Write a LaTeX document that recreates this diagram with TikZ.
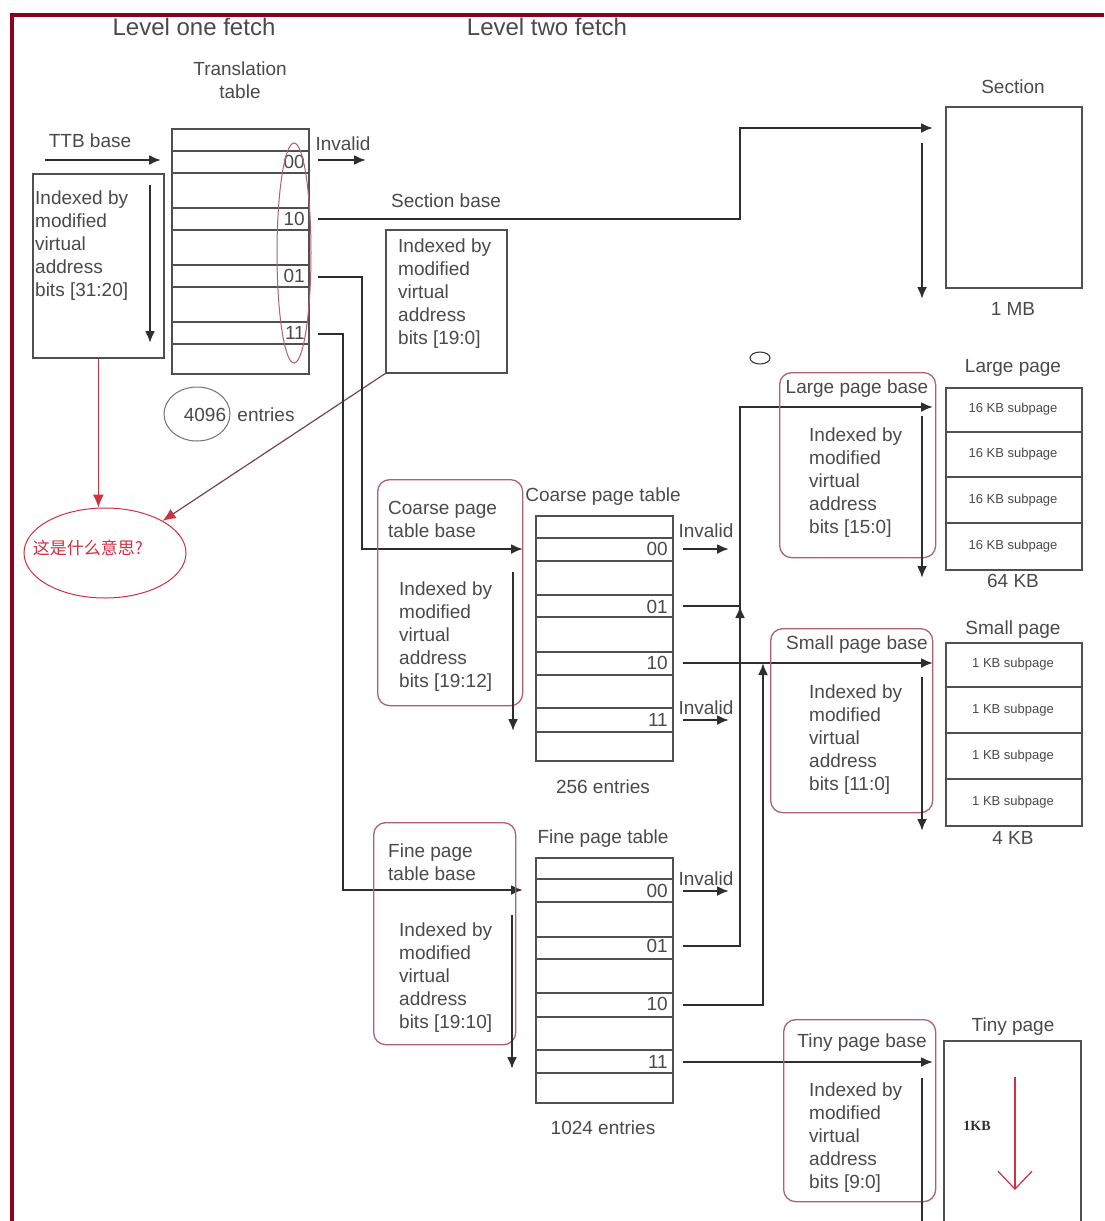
\documentclass[tikz,border=0pt]{standalone}
\usepackage{fontspec}
\setmainfont{Liberation Sans}
\newfontfamily\cjk{Noto Sans CJK SC}
\newfontfamily\serifb{Liberation Serif}
\usetikzlibrary{arrows.meta,shapes.geometric,calc}
\definecolor{txt}{HTML}{4A4A4A}
\definecolor{ln}{HTML}{2E2E2E}
\definecolor{bx}{HTML}{505050}
\definecolor{rb}{HTML}{B06070}
\definecolor{brd}{HTML}{8A0020}
\definecolor{qred}{HTML}{D03040}
\begin{document}
\begin{tikzpicture}[x=1pt,y=-1pt,
  lbl/.style={font=\fontsize{19}{23}\selectfont, text=txt, inner sep=0pt},
  ttl/.style={font=\fontsize{24}{28}\selectfont, text=txt, inner sep=0pt},
  sub/.style={font=\fontsize{13}{16}\selectfont, text=txt, inner sep=0pt},
  blk/.style={lbl, align=left, anchor=north west},
  ent/.style={lbl, anchor=east},
  conn/.style={draw=ln, line width=2.2pt},
  arr/.style={conn, -{Latex[length=12pt,width=10pt]}},
  tbl/.style={draw=bx, line width=1.7pt, inner sep=0pt, anchor=north west},
  row/.style={draw=bx, line width=1.7pt},
  rbox/.style={draw=rb, line width=1.3pt, rounded corners=12pt, inner sep=0pt, anchor=north west},
  redarr/.style={draw=qred, line width=1.2pt, -{Latex[length=13pt,width=11pt,color=qred]}}
]
\useasboundingbox (0,0) rectangle (1104,1221);
\fill[white] (0,0) rectangle (1104,1221);

% border
\draw[brd, line width=4pt] (12,1221) -- (12,15) -- (1104,15);

% titles
\node[ttl] (lv1) at (194,27) {Level one fetch};
\node[ttl] (lv2) at (547,27) {Level two fetch};

% ---------- Level one ----------
\node[lbl, align=center] (ttlbl) at (240,80) {Translation\\table};
\node[tbl, minimum width=137pt, minimum height=245pt] (TT) at (171,128) {};
\foreach \r in {151,173,208,230,265,287,322,344} \draw[row] (171,\r) -- (308,\r);
\node[ent] (t00) at (305,162) {00};
\node[ent] (t10) at (305,219) {10};
\node[ent] (t01) at (305,276) {01};
\node[ent] (t11) at (305,333) {11};
\node[draw=rb, ellipse, line width=1pt, minimum width=34pt, minimum height=220pt, inner sep=0pt] (E1) at (294,253) {};

\node[lbl] (ttb) at (90,141) {TTB base};
\coordinate (ttbS) at (45,160);
\coordinate (ttbE) at (161,160);
\draw[arr] (ttbS) -- (ttbE);

\node[tbl, minimum width=131pt, minimum height=184pt] (IB1) at (32,173) {};
\node[blk] (IB1t) at (35,191) {Indexed by\\modified\\virtual\\address\\bits [31:20]};
\coordinate (ib1a) at (150,185); \coordinate (ib1b) at (150,343);
\draw[arr] (ib1a) -- (ib1b);

\node[lbl] (inv1) at (343,144) {Invalid};
\coordinate (s00) at (318,160); \coordinate (s00e) at (366,160);
\draw[arr] (s00) -- (s00e);

\node[lbl] (secb) at (446,201) {Section base};
\coordinate (s10) at (318,219); \coordinate (secJ) at (740,128); \coordinate (secIn) at (933,128);
\draw[arr] (s10) -| (secJ) -- (secIn);

\node[tbl, minimum width=121pt, minimum height=143pt] (IB2) at (385,229) {};
\node[blk] (IB2t) at (398,239) {Indexed by\\modified\\virtual\\address\\bits [19:0]};

\node[draw=bx!80, ellipse, line width=1pt, minimum width=66pt, minimum height=54pt, inner sep=0pt] (E2) at (197,414) {};
\node[lbl] (n4096) at (205,415) {4096};
\node[lbl] (nent) at (266,415) {entries};

% question ellipse
\node[draw=qred, ellipse, line width=1pt, minimum width=162pt, minimum height=90pt, inner sep=0pt] (Q) at (105,553) {};
\node[font=\cjk\fontsize{17}{20}\selectfont, text=qred, inner sep=0pt] (Qt) at (88,548) {这是什么意思?};
\draw[redarr] (IB1.south) -- (IB1.south |- Q.north);
\draw[draw=rb!70!black, line width=1.2pt, -{Latex[length=13pt,width=11pt,color=qred]}] (IB2.south west) -- (Q.north east);

% entries 01 and 11 of level one
\coordinate (s01) at (318,277); \coordinate (cbJ) at (362,549); \coordinate (cbIn) at (523,549);
\draw[arr] (s01) -| (cbJ) -- (cbIn);
\coordinate (s11) at (318,334); \coordinate (fbJ) at (343,890); \coordinate (fbIn) at (523,890);
\draw[arr] (s11) -| (fbJ) -- (fbIn);

% ---------- Section ----------
\node[lbl] (secl) at (1013,87) {Section};
\node[tbl, minimum width=136pt, minimum height=181pt] (SEC) at (945,106) {};
\node[lbl] (mb1) at (1013,309) {1 MB};
\coordinate (sda) at (922,143); \coordinate (sdb) at (922,299);
\draw[arr] (sda) -- (sdb);

% ---------- Coarse ----------
\node[rbox, minimum width=145pt, minimum height=226pt] (CB) at (377,479) {};
\node[blk] (CBt) at (388,501) {Coarse page\\table base};
\node[blk] (CBi) at (399,582) {Indexed by\\modified\\virtual\\address\\bits [19:12]};
\coordinate (cba) at (513,572); \coordinate (cbb) at (513,731);
\draw[arr] (cba) -- (cbb);

\node[lbl] (cptl) at (603,497) {Coarse page table};
\node[tbl, minimum width=137pt, minimum height=245pt] (CT) at (535,515) {};
\foreach \r in {538,561,595,617,652,675,708,732} \draw[row] (535,\r) -- (672,\r);
\node[ent] (c00) at (668,549) {00};
\node[ent] (c01) at (668,607) {01};
\node[ent] (c10) at (668,663) {10};
\node[ent] (c11) at (668,720) {11};
\node[lbl] (cent) at (603,787) {256 entries};

\node[lbl] (inv2) at (706,531) {Invalid};
\node[lbl] (inv3) at (706,708) {Invalid};
\coordinate (cs00) at (683,549); \coordinate (cs00e) at (729,549);
\draw[arr] (cs00) -- (cs00e);
\coordinate (cs11) at (683,720); \coordinate (cs11e) at (729,720);
\draw[arr] (cs11) -- (cs11e);
\coordinate (cs01) at (683,606); \coordinate (lgM) at (740,606); \coordinate (lgMb) at (740,630);
\draw[conn] (cs01) -- (lgM);
\draw[arr] (lgMb) -- (lgM);
\coordinate (cs10) at (683,663); \coordinate (spIn) at (933,663);
\draw[arr] (cs10) -- (spIn);

% ---------- Fine ----------
\node[rbox, minimum width=142pt, minimum height=222pt] (FB) at (373,822) {};
\node[blk] (FBt) at (388,844) {Fine page\\table base};
\node[blk] (FBi) at (399,923) {Indexed by\\modified\\virtual\\address\\bits [19:10]};
\coordinate (fba) at (512,915); \coordinate (fbb) at (512,1069);
\draw[arr] (fba) -- (fbb);

\node[lbl] (fptl) at (603,839) {Fine page table};
\node[tbl, minimum width=137pt, minimum height=245pt] (FT) at (535,857) {};
\foreach \r in {879,902,937,959,993,1017,1050,1073} \draw[row] (535,\r) -- (672,\r);
\node[ent] (f00) at (668,891) {00};
\node[ent] (f01) at (668,946) {01};
\node[ent] (f10) at (668,1004) {10};
\node[ent] (f11) at (668,1062) {11};
\node[lbl] (fent) at (603,1128) {1024 entries};

\node[lbl] (inv4) at (706,879) {Invalid};
\coordinate (fs00) at (683,891); \coordinate (fs00e) at (729,891);
\draw[arr] (fs00) -- (fs00e);
\coordinate (fs01) at (683,946); \coordinate (lgJ) at (740,407); \coordinate (lgIn) at (933,407);
\draw[arr] (fs01) -| (lgJ) -- (lgIn);
\coordinate (fs10) at (683,1005); \coordinate (smJ) at (763,663);
\draw[arr] (fs10) -| (smJ);
\coordinate (fs11) at (683,1062); \coordinate (tpIn) at (933,1062);
\draw[arr] (fs11) -- (tpIn);

\node[draw=ln, ellipse, line width=1pt, minimum width=20pt, minimum height=12pt, inner sep=0pt] (E4) at (760,358) {};

% ---------- Large page ----------
\node[rbox, minimum width=156pt, minimum height=185pt] (LB) at (779,372) {};
\node[lbl] (LBt) at (857,389) {Large page base};
\node[blk] (LBi) at (809,428) {Indexed by\\modified\\virtual\\address\\bits [15:0]};
\coordinate (lba) at (922,416); \coordinate (lbb) at (922,578);
\draw[arr] (lba) -- (lbb);
\node[lbl] (lpl) at (1013,368) {Large page};
\node[tbl, minimum width=136pt, minimum height=182pt] (LP) at (945,387) {};
\foreach \r in {432,477,523} \draw[row] (945,\r) -- (1081,\r);
\foreach \r/\n in {409/a,454/b,500/c,546/d} \node[sub] (lp\n) at (1013,\r) {16 KB subpage};
\node[lbl] (kb64) at (1013,581) {64 KB};

% ---------- Small page ----------
\node[rbox, minimum width=162pt, minimum height=184pt] (SB) at (770,628) {};
\node[lbl] (SBt) at (857,645) {Small page base};
\node[blk] (SBi) at (809,685) {Indexed by\\modified\\virtual\\address\\bits [11:0]};
\coordinate (sba) at (922,677); \coordinate (sbb) at (922,831);
\draw[arr] (sba) -- (sbb);
\node[lbl] (spl) at (1013,630) {Small page};
\node[tbl, minimum width=136pt, minimum height=183pt] (SP) at (945,642) {};
\foreach \r in {687,733,779} \draw[row] (945,\r) -- (1081,\r);
\foreach \r/\n in {664/a,710/b,756/c,802/d} \node[sub] (sp\n) at (1013,\r) {1 KB subpage};
\node[lbl] (kb4) at (1013,838) {4 KB};

% ---------- Tiny page ----------
\node[rbox, minimum width=152pt, minimum height=182pt] (TB) at (783,1019) {};
\node[lbl] (TBt) at (862,1043) {Tiny page base};
\node[blk] (TBi) at (809,1083) {Indexed by\\modified\\virtual\\address\\bits [9:0]};
\coordinate (tba) at (922,1078); \coordinate (tbb) at (922,1221);
\draw[conn] (tba) -- (tbb);
\node[lbl] (tpl) at (1013,1027) {Tiny page};
\draw[row] (944,1221) -- (944,1041) -- (1081,1041) -- (1081,1221);
\node[font=\serifb\bfseries\fontsize{14}{16}\selectfont, text=ln, inner sep=0pt] (kb1) at (977,1126) {1KB};
\coordinate (ra) at (1015,1077); \coordinate (rbb) at (1015,1190);
\draw[draw=qred, line width=1.2pt, -{Straight Barb[length=18pt,width=34pt]}] (ra) -- (rbb);

\end{tikzpicture}
\end{document}
